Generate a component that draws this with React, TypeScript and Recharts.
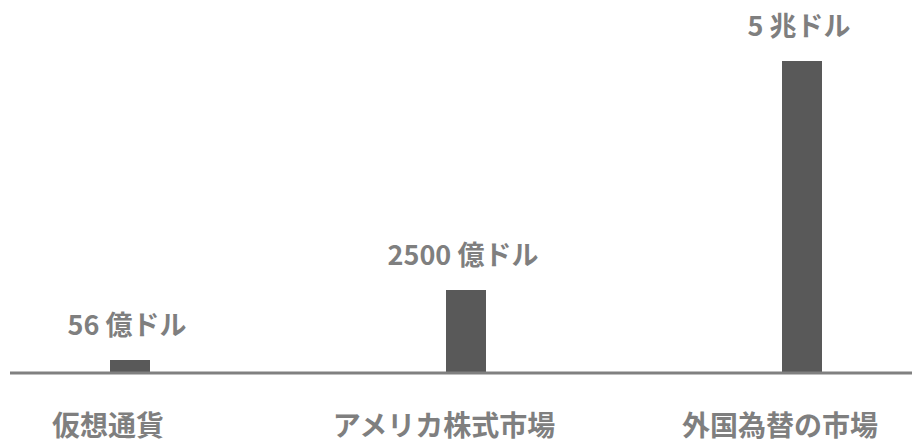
import { BarChart, Bar, XAxis, YAxis, LabelList } from "recharts"

// categories along the axis
const categories = ["仮想通貨", "アメリカ株式市場", "外国為替の市場"]
// bar heights as drawn in the picture (not to scale with the labels)
const barValues = [13, 83, 312]
// text shown above each bar
const valueLabels = ["56 億ドル", "2500 億ドル", "5 兆ドル"]

const data = categories.map((name, i) => ({ name, value: barValues[i], label: valueLabels[i] }))

const FONT = "'Noto Sans CJK JP', 'Noto Sans', sans-serif"

const CategoryTick = (props: any) => {
  const { x, y, payload } = props
  return (
    <text
      x={x - 22}
      y={y + 51}
      textAnchor="middle"
      dominantBaseline="central"
      fill="#7f7f7f"
      fontSize={28}
      fontWeight={700}
      fontFamily={FONT}
    >
      {payload.value}
    </text>
  )
}

const ValueLabel = (props: any) => {
  const { x, y, width, index } = props
  return (
    <text
      x={x + width / 2 - 3}
      y={y - 37}
      textAnchor="middle"
      dominantBaseline="central"
      fill="#7f7f7f"
      fontSize={27}
      fontWeight={700}
      fontFamily={FONT}
    >
      {valueLabels[index]}
    </text>
  )
}

export default function App() {
  return (
    <div style={{ position: "absolute", left: 0, top: 0, background: "#fff" }}>
      <BarChart width={914} height={444} data={data} margin={{ top: 61, right: 2, left: 10, bottom: 0 }}>
        <XAxis
          dataKey="name"
          scale="point"
          padding={{ left: 120, right: 110 }}
          height={71}
          tickLine={false}
          tickSize={0}
          tickMargin={0}
          axisLine={{ stroke: "#808080", strokeWidth: 3 }}
          tick={<CategoryTick />}
          interval={0}
        />
        <YAxis hide domain={[0, 312]} />
        <Bar dataKey="value" fill="#595959" barSize={40} isAnimationActive={false}>
          <LabelList dataKey="label" content={<ValueLabel />} />
        </Bar>
      </BarChart>
    </div>
  )
}
